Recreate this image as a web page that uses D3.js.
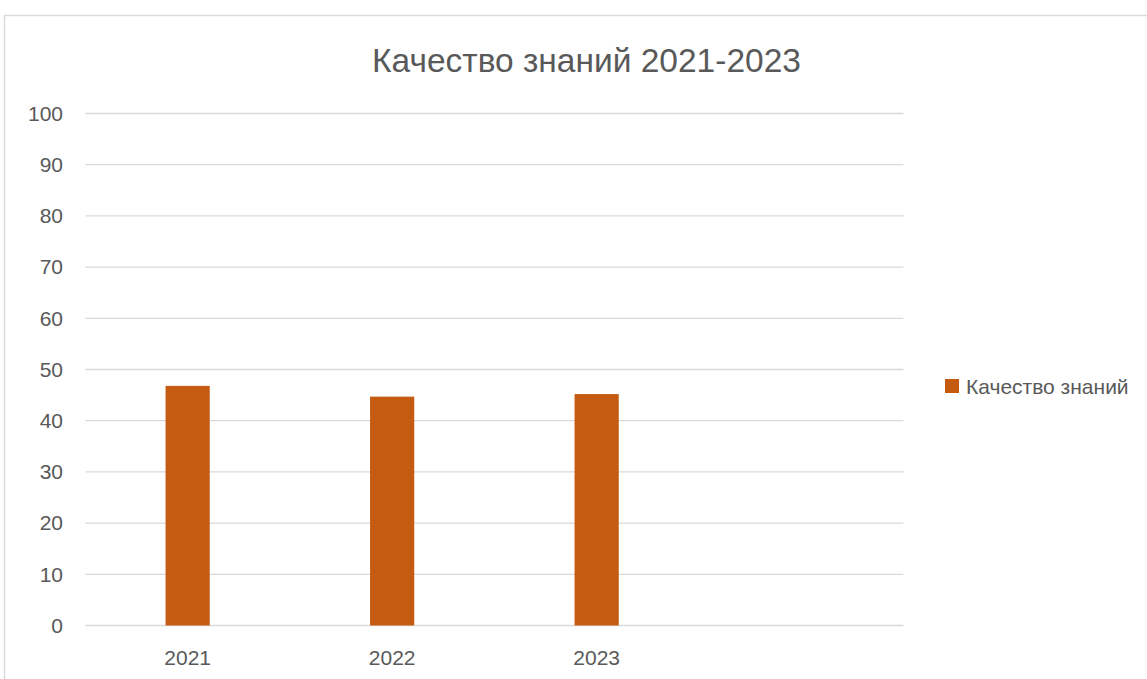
<!DOCTYPE html>
<html><head><meta charset="utf-8">
<script src="https://cdn.jsdelivr.net/npm/d3@7"></script>
<style>
html,body{margin:0;padding:0;background:#fff;}
svg{display:block;font-family:"Liberation Sans",Arial,sans-serif;}
</style></head>
<body>
<svg id="chart" width="1147" height="679"></svg>
<script>
const categories = ["2021", "2022", "2023", ""];
const values = [46.8, 44.7, 45.2, null];
const yTicks = [0, 10, 20, 30, 40, 50, 60, 70, 80, 90, 100];
const seriesName = "Качество знаний";
const title = "Качество знаний 2021-2023";

const svg = d3.select("#chart");
const textColor = "#595959";

// chart frame
svg.append("rect").attr("x", 4.5).attr("y", 15.5).attr("width", 1160).attr("height", 700)
  .attr("fill", "#fff").attr("stroke", "#d9d9d9").attr("stroke-width", 1.5);

const x = d3.scaleBand().domain(categories).range([85.4, 903.4]).padding(0);
const y = d3.scaleLinear().domain([0, 100]).range([625.5, 113.5]);

// gridlines
svg.append("g").selectAll("line").data(yTicks).join("line")
  .attr("x1", x.range()[0]).attr("x2", x.range()[1])
  .attr("y1", d => y(d)).attr("y2", d => y(d))
  .attr("stroke", "#d9d9d9").attr("stroke-width", 1.3);

// y axis labels
const yAxis = d3.axisLeft(y).tickValues(yTicks).tickSize(0).tickPadding(0);
const gy = svg.append("g").attr("transform", "translate(63,0)").call(yAxis);
gy.select(".domain").remove();
gy.selectAll("text").attr("fill", textColor).style("font-size", "21px")
  .style("font-family", "Liberation Sans, Arial, sans-serif");

// x axis labels
const xAxis = d3.axisBottom(x).tickSize(0).tickPadding(0);
const gx = svg.append("g").attr("transform", "translate(0,665)").call(xAxis);
gx.select(".domain").remove();
gx.selectAll("text").attr("dy", "0").attr("fill", textColor).style("font-size", "21px")
  .style("font-family", "Liberation Sans, Arial, sans-serif");

// bars
const barW = x.bandwidth() * 0.216;
svg.append("g").selectAll("rect").data(categories.map((c, i) => ({c, v: values[i]})).filter(d => d.v != null))
  .join("rect")
  .attr("x", d => x(d.c) + x.bandwidth() / 2 - barW / 2)
  .attr("width", barW)
  .attr("y", d => y(d.v))
  .attr("height", d => y(0) - y(d.v))
  .attr("fill", "#c55a11");

// title
svg.append("text").attr("x", 586.5).attr("y", 72).attr("text-anchor", "middle")
  .attr("fill", textColor).style("font-size", "33.5px").text(title);

// legend
svg.append("rect").attr("x", 945).attr("y", 379).attr("width", 14).attr("height", 14).attr("fill", "#c55a11");
svg.append("text").attr("x", 966).attr("y", 394).attr("fill", textColor)
  .style("font-size", "21px").text(seriesName);
</script>
</body></html>
